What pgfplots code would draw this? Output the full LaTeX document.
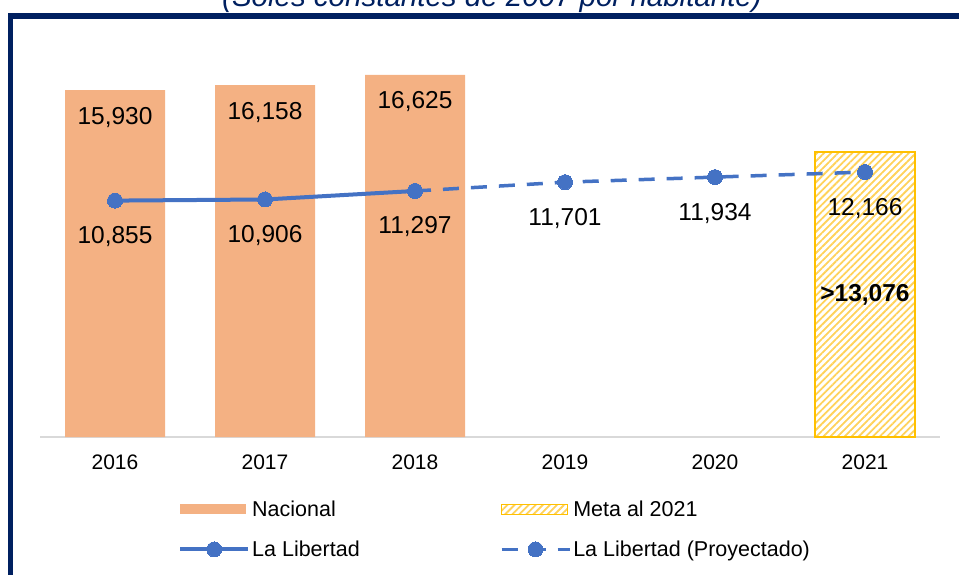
\documentclass[border=0pt]{standalone}
\usepackage{fontspec}
\setmainfont{Liberation Sans}
\usepackage{pgfplots}
\pgfplotsset{compat=1.18}
\usetikzlibrary{patterns.meta}
\definecolor{navy}{HTML}{002060}
\definecolor{nacional}{HTML}{F4B183}
\definecolor{lib}{HTML}{4472C4}
\definecolor{meta}{HTML}{FFC000}
\definecolor{metastripe}{HTML}{FFD25A}
\pgfplotsset{linelegend/.style={legend image code/.code={\draw[##1, mark repeat=2, mark phase=2] plot coordinates {(0pt,0pt) (34pt,0pt) (68pt,0pt)};}}}
\begin{document}
\begin{tikzpicture}[x=1pt,y=1pt]
\useasboundingbox (0,0) rectangle (959,574);
\begin{scope}
\clip (0,0) rectangle (959,574);
\node[font=\fontsize{29.5}{34}\selectfont\itshape, text=navy, anchor=base, inner sep=0pt] at (492,567) {(Soles constantes de 2007 por habitante)};
\draw[navy, line width=5.5pt, line join=miter] (10.5,-10) -- (10.5,558) -- (975,558);
\end{scope}
\begin{axis}[
  at={(40pt,137pt)}, anchor=south west,
  scale only axis, width=900pt, height=392pt,
  xmin=-0.5, xmax=5.5, ymin=0, ymax=18000,
  clip=false,
  axis y line=none,
  axis x line*=bottom,
  x axis line style={color=black!15, line width=1.5pt},
  xtick={0,1,2,3,4,5},
  xticklabels={2016,2017,2018,2019,2020,2021},
  major tick length=0pt,
  xtick style={draw=none},
  xticklabel style={font=\fontsize{21}{24}\selectfont, anchor=center, yshift=-25pt},
  /pgf/number format/assume math mode=true,
  /pgf/number format/1000 sep={,},
  legend columns=2,
  legend cell align=left,
  legend style={at={(0.15,-0.152)}, anchor=north west, draw=none, fill=none,
    font=\fontsize{21.5}{24}\selectfont, row sep=19pt,
    /tikz/every even column/.append style={column sep=138pt}},
]
% Nacional bars
\addplot[ybar, bar width=100pt, bar shift=0pt, fill=nacional, draw=none,
  legend image code/.code={\fill[nacional] (0pt,-5pt) rectangle (66pt,5pt);}]
  coordinates {(0,15930) (1,16158) (2,16625)};
\addlegendentry{Nacional}
% Meta 2021
\addplot[ybar, bar width=100pt, bar shift=0pt, draw=meta, line width=1.5pt,
  pattern={Lines[angle=45,distance=5pt,line width=1.8pt]}, pattern color=metastripe,
  legend image code/.code={\draw[meta, line width=1.5pt, pattern={Lines[angle=45,distance=5pt,line width=1.8pt]}, pattern color=metastripe] (0pt,-5pt) rectangle (66pt,5pt);}]
  coordinates {(5,13076)};
\addlegendentry{Meta al 2021}
% La Libertad
\addplot[color=lib, line width=4pt, mark=*, mark size=7.5pt, mark options={solid, fill=lib, draw=lib, line width=0pt}, linelegend]
  coordinates {(0,10855) (1,10906) (2,11297)};
\addlegendentry{La Libertad}
% Proyectado
\addplot[color=lib, line width=3.5pt, dash pattern=on 16pt off 12pt, mark=*, mark size=7.5pt, mark options={solid, fill=lib, draw=lib, line width=0pt}, linelegend]
  coordinates {(2,11297) (3,11701) (4,11934) (5,12166)};
\addlegendentry{La Libertad (Proyectado)}
% labels
\addplot[draw=none, mark=none, forget plot, nodes near coords,
  every node near coord/.style={anchor=center, yshift=-27pt, font=\fontsize{24.5}{28}\selectfont, text=black}]
  coordinates {(0,15930) (1,16158) (2,16625)};
\addplot[draw=none, mark=none, forget plot, nodes near coords,
  every node near coord/.style={anchor=center, yshift=-36pt, font=\fontsize{24.5}{28}\selectfont, text=black}]
  coordinates {(0,10855) (1,10906) (2,11297) (3,11701) (4,11934) (5,12166)};
\addplot[draw=none, mark=none, forget plot, nodes near coords={\textbf{>13,076}},
  every node near coord/.style={anchor=center, yshift=-143pt, font=\fontsize{24.5}{28}\selectfont, text=black}]
  coordinates {(5,13076)};
\end{axis}
\end{tikzpicture}
\end{document}
